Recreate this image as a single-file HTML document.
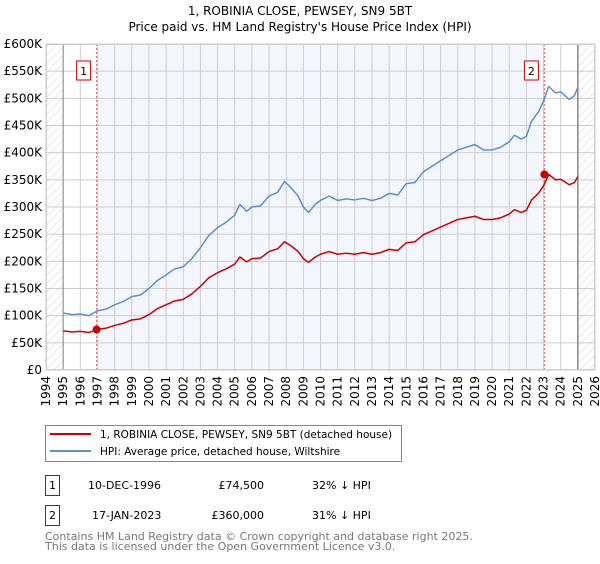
<!DOCTYPE html>
<html><head><meta charset="utf-8"><style>
body{margin:0;background:#fff;font-family:"DejaVu Sans","Liberation Sans",sans-serif;}
svg text{font-family:"DejaVu Sans","Liberation Sans",sans-serif;}
</style></head><body>
<svg id="chart" width="600" height="560" xmlns="http://www.w3.org/2000/svg">
<defs><pattern id="hatch" width="6" height="6" patternUnits="userSpaceOnUse" patternTransform="rotate(-135)"><line x1="0" y1="0" x2="0" y2="6" stroke="#d4d4d4" stroke-width="1"/></pattern></defs>
<text x="300" y="15" text-anchor="middle" font-size="12">1, ROBINIA CLOSE, PEWSEY, SN9 5BT</text>
<text x="300" y="31" text-anchor="middle" font-size="12">Price paid vs. HM Land Registry's House Price Index (HPI)</text>
<g id="plot"></g>
<g>
<rect x="45.5" y="425.5" width="356" height="36" fill="#fff" stroke="#888"/>
<line x1="50" y1="434" x2="91" y2="434" stroke="#cc0000" stroke-width="2"/>
<text x="100" y="438" font-size="10.5">1, ROBINIA CLOSE, PEWSEY, SN9 5BT (detached house)</text>
<line x1="50" y1="451" x2="91" y2="451" stroke="#5b8fd0" stroke-width="2"/>
<text x="100" y="455" font-size="10.5">HPI: Average price, detached house, Wiltshire</text>
</g>
<g font-size="11">
<rect x="45.5" y="475.5" width="14" height="20" fill="#fff" stroke="#cc0000"/>
<text x="52.5" y="489" text-anchor="middle">1</text>
<text x="88" y="489">10-DEC-1996</text>
<text x="264" y="489" text-anchor="end">£74,500</text>
<text x="312" y="489">32% ↓ HPI</text>
<rect x="45.5" y="505.5" width="14" height="20" fill="#fff" stroke="#cc0000"/>
<text x="52.5" y="519" text-anchor="middle">2</text>
<text x="92" y="519">17-JAN-2023</text>
<text x="264" y="519" text-anchor="end">£360,000</text>
<text x="312" y="519">31% ↓ HPI</text>
</g>
<text x="45" y="540" font-size="11" fill="#777">Contains HM Land Registry data © Crown copyright and database right 2025.</text>
<text x="45" y="550" font-size="11" fill="#777">This data is licensed under the Open Government Licence v3.0.</text>
</svg>
<script>
const hpiYears=[1995,1995.5,1996,1996.5,1997,1997.5,1998,1998.5,1999,1999.5,2000,2000.5,2001,2001.5,2002,2002.5,2003,2003.5,2004,2004.5,2005,2005.3,2005.7,2006,2006.5,2007,2007.5,2007.9,2008.3,2008.7,2009,2009.3,2009.7,2010,2010.5,2011,2011.5,2012,2012.5,2013,2013.5,2014,2014.5,2015,2015.5,2016,2016.5,2017,2017.5,2018,2018.5,2019,2019.5,2020,2020.5,2021,2021.3,2021.7,2022,2022.3,2022.7,2023,2023.3,2023.7,2024,2024.5,2024.8,2025];
const hpiValues=[105,102,103,100,109,112,120,126,135,138,150,165,175,186,190,205,225,248,262,272,285,305,292,300,302,320,327,347,335,320,300,290,305,312,320,312,315,313,316,312,316,325,322,343,345,365,375,385,395,405,410,415,405,405,410,420,432,425,430,458,475,495,522,510,512,498,505,520];
const priceValues=[72,70,71,69,74.5,77,82,86,92,94,102,113,120,127,130,140,154,170,179,186,195,208,199,205,206,218,223,236,228,218,205,198,208,213,218,213,215,213,216,213,216,222,220,234,236,249,256,263,270,277,280,283,277,277,280,287,295,290,294,313,325,339,360,350,351,341,345,356];
const sales=[{n:'1',year:1996.95,value:74.5},{n:'2',year:2023.05,value:360}];
const yTicks=[0,50,100,150,200,250,300,350,400,450,500,550,600];
const yTickLabels=['£0','£50K','£100K','£150K','£200K','£250K','£300K','£350K','£400K','£450K','£500K','£550K','£600K'];
const xTicks=[1994,1995,1996,1997,1998,1999,2000,2001,2002,2003,2004,2005,2006,2007,2008,2009,2010,2011,2012,2013,2014,2015,2016,2017,2018,2019,2020,2021,2022,2023,2024,2025,2026];

const NS='http://www.w3.org/2000/svg';
const L=46,R=595,T=44,B=370;
const x=v=>L+(v-1994)/(2026-1994)*(R-L);
const y=v=>B-v/600*(B-T);
const g=document.getElementById('plot');
function mk(tag,attrs,parent){const e=document.createElementNS(NS,tag);for(const k in attrs)e.setAttribute(k,attrs[k]);(parent||g).appendChild(e);return e;}

let e;
e=mk('rect',{x:x(sales[0].year),y:T,width:x(sales[1].year)-x(sales[0].year),height:B-T,fill:'#f3f6fd'});


e=mk('rect',{x:L,y:T,width:x(1995)-L,height:B-T,fill:'url(#hatch)'});


e=mk('rect',{x:x(2025),y:T,width:R-x(2025),height:B-T,fill:'url(#hatch)'});



yTicks.forEach((t,i)=>{
  e=mk('line',{x1:L,x2:R,y1:y(t),y2:y(t),stroke:'#ccc','stroke-width':1});
  
  
  e=mk('text',{x:L-4,y:y(t)+4,'text-anchor':'end','font-size':12});
  e.textContent=yTickLabels[i];
  
  
});
xTicks.forEach(t=>{
  e=mk('line',{x1:x(t),x2:x(t),y1:T,y2:B,stroke:'#ccc','stroke-width':1});
  
  
  e=mk('text',{x:0,y:0,'text-anchor':'end','font-size':12,transform:`translate(${x(t)+4},${B+6}) rotate(-90)`});
  e.textContent=String(t);
  
  
});
e=mk('line',{x1:x(1995),x2:x(1995),y1:T,y2:B,stroke:'#888','stroke-width':1});


e=mk('line',{x1:x(2025),x2:x(2025),y1:T,y2:B,stroke:'#888','stroke-width':1.5});



sales.forEach(s=>{
  e=mk('line',{x1:x(s.year),x2:x(s.year),y1:T,y2:B,stroke:'#e06666','stroke-width':1,'stroke-dasharray':'2,2'});
  
  
  e=mk('rect',{x:x(s.year)-20,y:T+17,width:14,height:19,fill:'#fff',stroke:'#cc0000'});
  
  
  e=mk('text',{x:x(s.year)-13,y:T+31,'text-anchor':'middle','font-size':11});
  e.textContent=s.n;
  
  
});

e=mk('polyline',{points:hpiYears.map((yr,i)=>x(yr)+','+y(hpiValues[i])).join(' '),fill:'none',stroke:'#5b8fd0','stroke-width':1.5,'stroke-linejoin':'round'});


e=mk('polyline',{points:hpiYears.map((yr,i)=>x(yr)+','+y(priceValues[i])).join(' '),fill:'none',stroke:'#cc0000','stroke-width':1.5,'stroke-linejoin':'round'});


sales.forEach(s=>{
  e=mk('circle',{cx:x(s.year),cy:y(s.value),r:4,fill:'#cc0000'});
  
  
});
e=mk('rect',{x:L+0.5,y:T+0.5,width:R-L-1,height:B-T-1,fill:'none',stroke:'#ccc'});


</script>
</body></html>
